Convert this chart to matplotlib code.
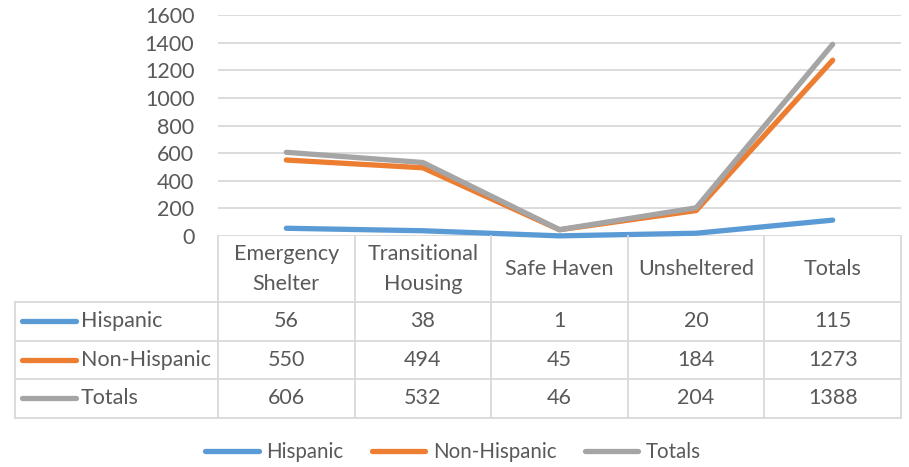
import matplotlib
matplotlib.use("Agg")
from matplotlib import pyplot as plt
from matplotlib.lines import Line2D

plt.rcParams['font.family'] = ['Lato', 'DejaVu Sans']

# data
categories = ["Emergency\nShelter", "Transitional\nHousing", "Safe Haven", "Unsheltered", "Totals"]
series_names = ["Hispanic", "Non-Hispanic", "Totals"]
hispanic = [56, 38, 1, 20, 115]
non_hispanic = [550, 494, 45, 184, 1273]
totals = [606, 532, 46, 204, 1388]
series_values = [hispanic, non_hispanic, totals]
colors = ["#5B9BD5", "#ED7D31", "#A5A5A5"]
yticks = [0, 200, 400, 600, 800, 1000, 1200, 1400, 1600]

W, H = 909, 467
TXT = "#595959"
GRID = "#D9D9D9"
FS = 15.5

fig = plt.figure(figsize=(W / 100, H / 100), dpi=100)

# plot area in pixel coords
left, right, top, bottom = 218, 901, 15, 236
ax = fig.add_axes([left / W, 1 - bottom / H, (right - left) / W, (bottom - top) / H])
ax.set_xlim(0, len(categories))
ax.set_ylim(0, 1600)
ax.set_yticks(yticks)
ax.set_yticklabels([str(v) for v in yticks], fontsize=FS, color=TXT)
ax.tick_params(axis='y', length=0, pad=17)
ax.set_xticks([])
for s in ax.spines.values():
    s.set_visible(False)
ax.grid(axis='y', color=GRID, linewidth=1.3)
ax.set_axisbelow(True)

xs = [i + 0.5 for i in range(len(categories))]
for name, vals, c in zip(series_names, series_values, colors):
    ax.plot(xs, vals, color=c, linewidth=3.8, solid_capstyle='round', solid_joinstyle='round', clip_on=False)


def fx(x):
    return x / W


def fy(y):
    return 1 - y / H


# data table
col_w = (right - left) / len(categories)
header_bot = 302
row_h = 38.5
n_rows = len(series_names)
tab_left = 15
tab_bot = header_bot + n_rows * row_h

lw = 1.3
# vertical lines for data columns
for i in range(len(categories) + 1):
    x = left + i * col_w
    fig.add_artist(Line2D([fx(x), fx(x)], [fy(bottom), fy(tab_bot)], color=GRID, lw=lw))
# left border
fig.add_artist(Line2D([fx(tab_left), fx(tab_left)], [fy(header_bot), fy(tab_bot)], color=GRID, lw=lw))
# horizontal lines
for j in range(n_rows + 1):
    y = header_bot + j * row_h
    fig.add_artist(Line2D([fx(tab_left), fx(right)], [fy(y), fy(y)], color=GRID, lw=lw))

# header labels
for i, cat in enumerate(categories):
    fig.text(fx(left + (i + 0.5) * col_w), fy((bottom + header_bot) / 2), cat,
             ha='center', va='center', fontsize=FS, color=TXT, linespacing=1.6)

# rows
for j, (name, vals, c) in enumerate(zip(series_names, series_values, colors)):
    yc = header_bot + (j + 0.5) * row_h
    fig.add_artist(Line2D([fx(22), fx(76)], [fy(yc), fy(yc)], color=c, lw=3.8, solid_capstyle='round'))
    fig.text(fx(81), fy(yc), name, ha='left', va='center', fontsize=FS, color=TXT)
    for i, v in enumerate(vals):
        fig.text(fx(left + (i + 0.5) * col_w), fy(yc), str(v), ha='center', va='center', fontsize=FS, color=TXT)

# legend
handles = [Line2D([], [], color=c, lw=3.8, solid_capstyle='round') for c in colors]
leg = fig.legend(handles, series_names, loc='center', bbox_to_anchor=(fx(453), fy(452)),
                 ncol=3, frameon=False, fontsize=14.8, handlelength=2.6, handletextpad=0.35,
                 columnspacing=1.4, labelcolor=TXT)

fig.savefig("out.png", dpi=100)
